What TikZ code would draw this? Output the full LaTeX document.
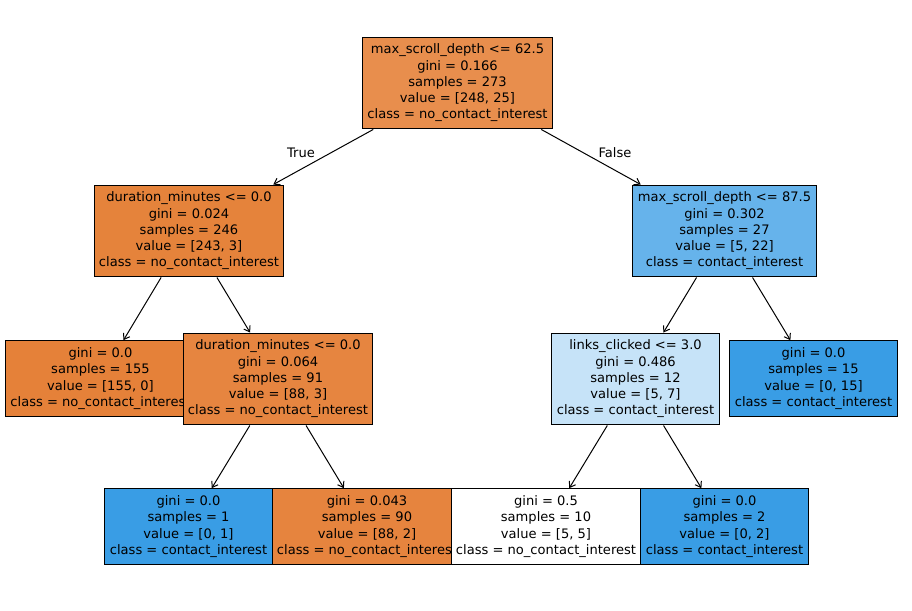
\documentclass[tikz,border=0pt]{standalone}
\usepackage{fontspec}
\setmainfont{DejaVu Sans}
\usetikzlibrary{arrows.meta}

\definecolor{rootcol}{RGB}{232,142,77}
\definecolor{nodeA}{RGB}{229,131,59}
\definecolor{nodeB}{RGB}{102,179,235}
\definecolor{nodeC}{RGB}{230,133,64}
\definecolor{nodeD}{RGB}{198,227,248}
\definecolor{nodeE}{RGB}{230,132,62}
\definecolor{leafO}{RGB}{229,129,57}
\definecolor{leafB}{RGB}{57,157,229}

\begin{document}
\begin{tikzpicture}[x=0.75pt, y=-0.75pt,
    box/.style={draw, line width=0.75pt, align=center, inner xsep=3.7pt, inner ysep=5.2pt,
                font=\fontsize{9.8}{12.2}\selectfont},
    edge/.style={-{Straight Barb[length=4pt,width=5.5pt]}, line width=0.75pt},
    lbl/.style={font=\fontsize{9.8}{12.2}\selectfont}]
  \useasboundingbox (0,0) rectangle (912,610);

  % depth 0
  \node[box, fill=rootcol] (root) at (457.5,83)
    {max\_scroll\_depth <= 62.5\\gini = 0.166\\samples = 273\\value = [248, 25]\\class = no\_contact\_interest};

  % depth 1
  \node[box, fill=nodeA] (dur1) at (189,231)
    {duration\_minutes <= 0.0\\gini = 0.024\\samples = 246\\value = [243, 3]\\class = no\_contact\_interest};
  \node[box, fill=nodeB] (scroll2) at (724.5,231)
    {max\_scroll\_depth <= 87.5\\gini = 0.302\\samples = 27\\value = [5, 22]\\class = contact\_interest};

  % depth 2
  \node[box, fill=leafO] (leaf155) at (100.5,378.5)
    {gini = 0.0\\samples = 155\\value = [155, 0]\\class = no\_contact\_interest};
  \node[box, fill=nodeC] (dur2) at (278,379)
    {duration\_minutes <= 0.0\\gini = 0.064\\samples = 91\\value = [88, 3]\\class = no\_contact\_interest};
  \node[box, fill=nodeD] (links) at (635.5,379)
    {links\_clicked <= 3.0\\gini = 0.486\\samples = 12\\value = [5, 7]\\class = contact\_interest};
  \node[box, fill=leafB] (leaf15) at (813.5,378.5)
    {gini = 0.0\\samples = 15\\value = [0, 15]\\class = contact\_interest};

  % depth 3
  \node[box, fill=leafB] (leaf1) at (188.5,526.5)
    {gini = 0.0\\samples = 1\\value = [0, 1]\\class = contact\_interest};
  \node[box, fill=nodeE] (leaf90) at (367,526.5)
    {gini = 0.043\\samples = 90\\value = [88, 2]\\class = no\_contact\_interest};
  \node[box, fill=white] (leaf10) at (546,526.5)
    {gini = 0.5\\samples = 10\\value = [5, 5]\\class = no\_contact\_interest};
  \node[box, fill=leafB] (leaf2) at (724.5,526.5)
    {gini = 0.0\\samples = 2\\value = [0, 2]\\class = contact\_interest};

  % edges
  \draw[edge] (root) -- (dur1);
  \draw[edge] (root) -- (scroll2);
  \draw[edge] (dur1) -- (leaf155);
  \draw[edge] (dur1) -- (dur2);
  \draw[edge] (scroll2) -- (links);
  \draw[edge] (scroll2) -- (leaf15);
  \draw[edge] (dur2) -- (leaf1);
  \draw[edge] (dur2) -- (leaf90);
  \draw[edge] (links) -- (leaf10);
  \draw[edge] (links) -- (leaf2);

  \node[lbl] (true) at (301,153) {True};
  \node[lbl] (false) at (615,153) {False};
\end{tikzpicture}
\end{document}
